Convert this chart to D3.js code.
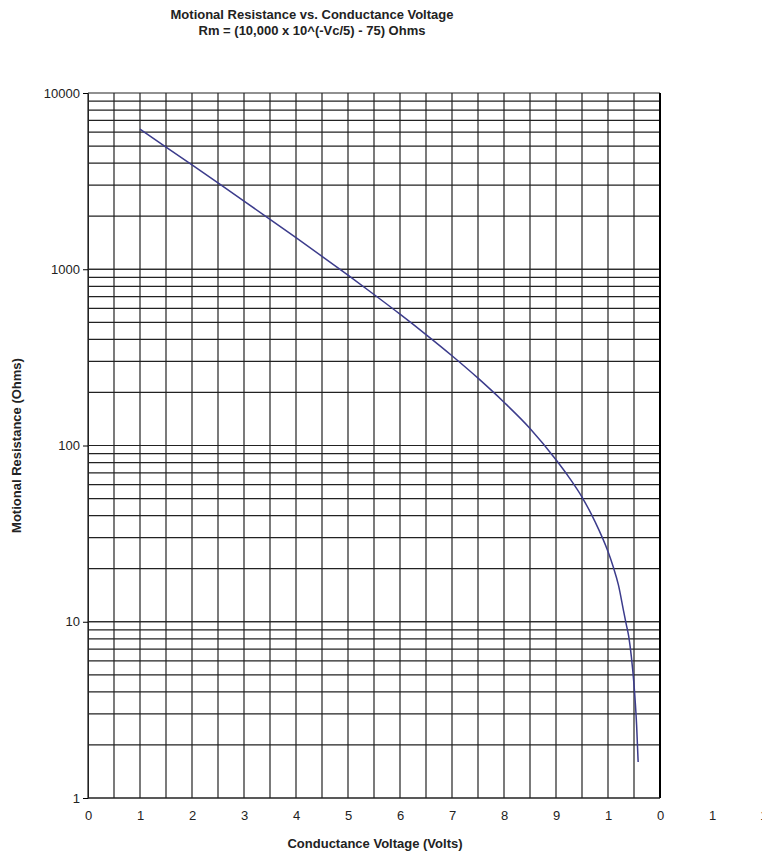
<!DOCTYPE html>
<html><head><meta charset="utf-8">
<script src="https://cdn.jsdelivr.net/npm/d3@7"></script>
<style>body{margin:0;background:#fff;font-family:"Liberation Sans",Arial,sans-serif}</style>
</head><body><svg id="chart"></svg>
<script>
const voltage = [1, 1.5, 2, 2.5, 3, 3.5, 4, 4.5, 5, 5.5, 6, 6.5, 7, 7.5, 8, 8.5, 9, 9.25, 9.5, 9.75, 10, 10.1, 10.2, 10.3, 10.35, 10.4, 10.45, 10.5, 10.55, 10.58];
const resistance = [6235, 4937, 3906, 3087, 2437, 1920, 1510, 1184, 925, 719, 556, 426, 323, 241, 176, 125, 83, 66, 51, 37, 25, 20.5, 16.2, 11.5, 9.7, 8.2, 6.3, 4.4, 2.6, 1.6];
const xTicks = [0, 1, 2, 3, 4, 5, 6, 7, 8, 9, 10, 11, 12, 13];
const xTickLabels = ["0", "1", "2", "3", "4", "5", "6", "7", "8", "9", "1", "0", "1", "1"];
const yTicks = [1, 10, 100, 1000, 10000];

const W = 762, H = 856;
const m = { left: 88, right: 102, top: 93, bottom: 58 };
const svg = d3.select("#chart").attr("width", W).attr("height", H);
const x = d3.scaleLinear().domain([0, 11]).range([m.left, W - m.right]);
const y = d3.scaleLog().domain([1, 10000]).range([H - m.bottom, m.top]);
const pw = W - m.right - m.left;

// grid
const g = svg.append("g");
const xs = d3.range(0, 11.01, 0.5);
g.selectAll(".vx").data(xs).enter().append("line")
  .attr("x1", d => x(d)).attr("x2", d => x(d)).attr("y1", y(1)).attr("y2", y(10000))
  .attr("stroke", "#222").attr("stroke-width", 1.2);
const ys = [];
for (let p = 1; p <= 1000; p *= 10) for (let k = 1; k <= 10; k++) ys.push(p * k);
g.selectAll(".hy").data(ys).enter().append("line")
  .attr("x1", x(0)).attr("x2", x(11)).attr("y1", d => y(d)).attr("y2", d => y(d))
  .attr("stroke", "#222").attr("stroke-width", 1.2);
g.append("line").attr("x1", x(11)).attr("x2", x(11)).attr("y1", y(1)).attr("y2", y(10000))
  .attr("stroke", "#000").attr("stroke-width", 2);

// axes
const xa = svg.append("g").attr("transform", `translate(0,${y(1)})`)
  .call(d3.axisBottom(d3.scaleLinear().domain([0, 13]).range([m.left, m.left + pw * 13 / 11]))
    .tickValues(xTicks).tickFormat((d, i) => xTickLabels[i]).tickSize(5).tickSizeOuter(0));
xa.select(".domain").attr("stroke", "#222").attr("d", `M${x(0)},0H${x(11)}`);
xa.selectAll(".tick line").attr("stroke", "none");
xa.selectAll("text").attr("font-size", 13).attr("fill", "#222").attr("dy", "1.1em")
  .attr("font-family", "Liberation Sans, Arial, sans-serif");
xa.selectAll(".tick").filter(d => d === 13).select("text").attr("text-anchor", "end").attr("dx", 3);

const ya = svg.append("g").attr("transform", `translate(${m.left},0)`)
  .call(d3.axisLeft(y).tickValues(yTicks).tickFormat(d3.format("d")).tickSize(5).tickSizeOuter(0));
ya.select(".domain").attr("stroke", "#222");
ya.selectAll("text").attr("font-size", 13).attr("fill", "#222")
  .attr("font-family", "Liberation Sans, Arial, sans-serif");

// curve
const pts = voltage.map((v, i) => [v, resistance[i]]);
svg.append("path").datum(pts)
  .attr("fill", "none").attr("stroke", "#3c3c8c").attr("stroke-width", 1.5)
  .attr("d", d3.line().x(d => x(d[0])).y(d => y(d[1])).curve(d3.curveMonotoneX));

// titles
const t = svg.append("text").attr("x", 312).attr("text-anchor", "middle")
  .attr("font-size", 13).attr("font-weight", "bold").attr("fill", "#222");
t.append("tspan").attr("x", 312).attr("y", 19).text("Motional Resistance vs. Conductance Voltage");
t.append("tspan").attr("x", 312).attr("y", 35).text("Rm = (10,000 x 10^(-Vc/5) - 75) Ohms");

svg.append("text").attr("x", 375).attr("y", 848).attr("text-anchor", "middle")
  .attr("font-size", 13).attr("font-weight", "bold").attr("fill", "#222")
  .text("Conductance Voltage (Volts)");
svg.append("text").attr("transform", `translate(21,${y(100)}) rotate(-90)`)
  .attr("text-anchor", "middle").attr("font-size", 13).attr("font-weight", "bold").attr("fill", "#222")
  .text("Motional Resistance (Ohms)");
</script></body></html>
